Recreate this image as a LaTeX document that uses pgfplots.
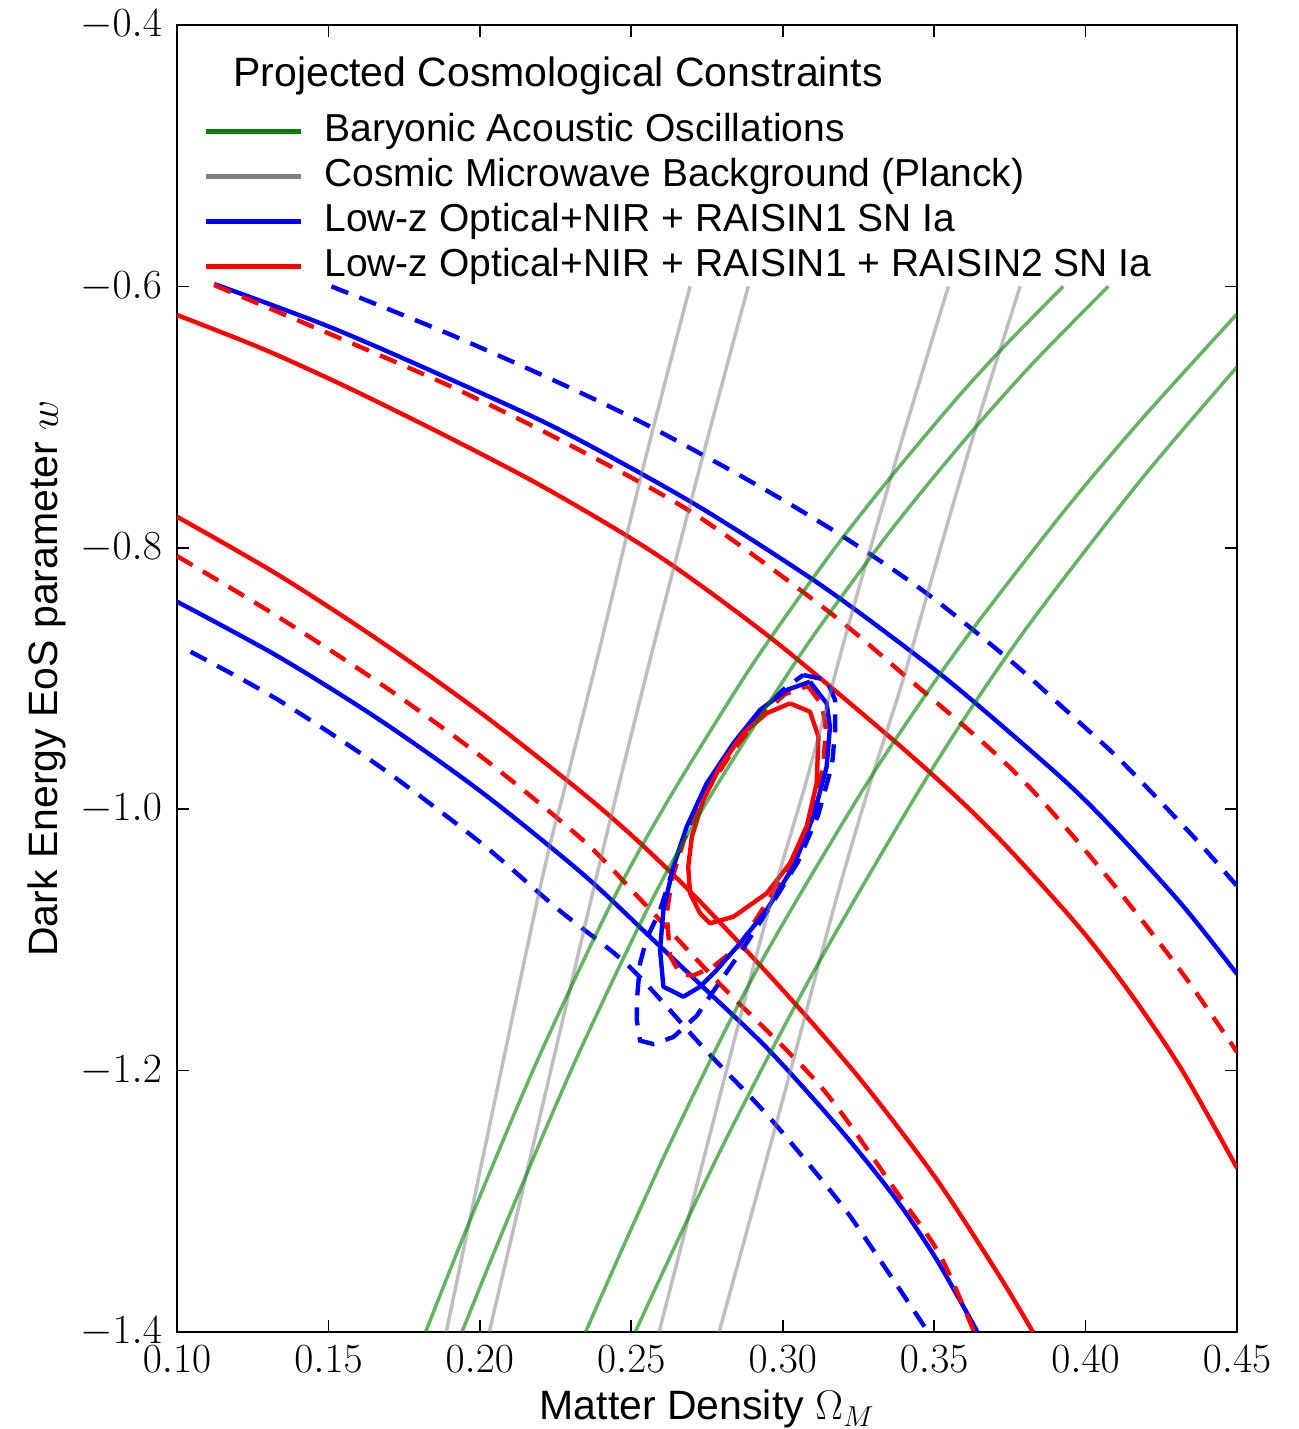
\documentclass[border=0pt]{standalone}
\usepackage{pgfplots}
\pgfplotsset{compat=1.18}
\usepackage{fontspec}
\setmainfont{Liberation Sans}
\definecolor{baog}{RGB}{0,128,0}
\definecolor{cmbg}{RGB}{128,128,128}
\definecolor{snb}{RGB}{0,0,255}
\definecolor{snr}{RGB}{255,0,0}
\begin{document}
\begin{tikzpicture}
\useasboundingbox (-88.5pt,-48.5pt) rectangle (560.5pt,666pt);
\begin{axis}[
  at={(0pt,0pt)}, anchor=south west,
  scale only axis, width=530pt, height=653.5pt,
  xmin=0.10, xmax=0.45, ymin=-1.4, ymax=-0.4,
  xtick={0.10,0.15,0.20,0.25,0.30,0.35,0.40,0.45},
  ytick={-1.4,-1.2,-1.0,-0.8,-0.6,-0.4},
  tick align=inside, tick pos=both,
  major tick length=6pt,
  tick style={black, line width=0.8pt},
  axis line style={line width=1pt},
  ticklabel style={font=\fontsize{20.5}{24}\selectfont},
  xticklabel style={yshift=-3.5pt, /pgf/number format/.cd,fixed,fixed zerofill,precision=2},
  yticklabel style={xshift=-4pt, /pgf/number format/.cd,fixed,fixed zerofill,precision=1},
  xlabel={Matter Density $\Omega_M$},
  ylabel={Dark Energy EoS parameter $w$},
  label style={font=\fontsize{20.5}{24}\selectfont},
  xlabel style={at={(axis description cs:0.5,-0.0673)}, anchor=base},
  ylabel style={at={(axis description cs:-0.1123,0.5)}, anchor=base, rotate=0},
  legend style={draw=none, fill=none, at={(rel axis cs:0.0189,0.936)}, anchor=north west,
    font=\fontsize{19.5}{22}\selectfont, cells={anchor=west},
    nodes={inner sep=0pt, text height=14pt, text depth=4pt}, row sep=4.5pt, column sep=10.5pt},
  legend cell align=left,
  legend image code/.code={\draw[#1] (0pt,0pt) -- (47.5pt,0pt);},
  sn/.style={line width=2.2pt, line join=round, line cap=butt},
  snd/.style={line width=2.2pt, dash pattern=on 9pt off 6pt},
  bao/.style={color=baog, line width=1.75pt, opacity=0.6, smooth, tension=0.5},
  cmb/.style={color=cmbg, line width=1.75pt, opacity=0.5, smooth, tension=0.5},
]
% ---- SN Ia upper branches ----
\addplot[forget plot, sn, snb, smooth, tension=0.5] coordinates {(0.1123,-0.5982) (0.1502,-0.6308) (0.1893,-0.6701) (0.2265,-0.7099) (0.2705,-0.7660) (0.3101,-0.8246) (0.3365,-0.8690) (0.3585,-0.9088) (0.3916,-0.9751) (0.4091,-1.0151) (0.4319,-1.0733) (0.45,-1.1261)};
\addplot[forget plot, snd, snb, smooth, tension=0.5] coordinates {(0.1510,-0.6) (0.1893,-0.6359) (0.2265,-0.6741) (0.2562,-0.7073) (0.2925,-0.7533) (0.3200,-0.7915) (0.3475,-0.8348) (0.3750,-0.8860) (0.3916,-0.9203) (0.4091,-0.9572) (0.4205,-0.9840) (0.4376,-1.0260) (0.45,-1.0588)};
\addplot[forget plot, snd, snr, smooth, tension=0.5] coordinates {(0.1123,-0.599) (0.1513,-0.6372) (0.1893,-0.6754) (0.2265,-0.7175) (0.2705,-0.7736) (0.3145,-0.8476) (0.3420,-0.9011) (0.3695,-0.9560) (0.3863,-0.9953) (0.4091,-1.0572) (0.4319,-1.1253) (0.45,-1.1858)};
\addplot[forget plot, sn, snr, smooth, tension=0.5] coordinates {(0.1000,-0.6219) (0.1279,-0.6474) (0.1558,-0.6767) (0.1893,-0.7150) (0.2228,-0.7558) (0.2595,-0.8070) (0.2969,-0.8705) (0.3365,-0.9471) (0.3585,-0.9930) (0.3750,-1.0312) (0.3978,-1.0901) (0.4147,-1.1406) (0.4318,-1.1995) (0.45,-1.2745)};
% ---- SN Ia lower branches ----
\addplot[forget plot, sn, snb, smooth, tension=0.5] coordinates {(0.1000,-0.8412) (0.1335,-0.8833) (0.1670,-0.9318) (0.2005,-0.9868) (0.2340,-1.0496) (0.2573,-1.1001) (0.2747,-1.1383) (0.2954,-1.1842) (0.3182,-1.2429) (0.3364,-1.2952) (0.3505,-1.3434) (0.3643,-1.4)};
\addplot[forget plot, snd, snb, smooth, tension=0.5] coordinates {(0.1045,-0.8795) (0.1335,-0.9165) (0.1670,-0.9675) (0.2005,-1.0261) (0.2261,-1.0771) (0.2494,-1.1205) (0.2748,-1.1850) (0.2954,-1.2353) (0.3182,-1.2990) (0.3284,-1.3321) (0.3480,-1.4)};
\addplot[forget plot, snd, snr, smooth, tension=0.5] coordinates {(0.1000,-0.8063) (0.1335,-0.8530) (0.1670,-0.9037) (0.2005,-0.9598) (0.2340,-1.0236) (0.2532,-1.0695) (0.2793,-1.1339) (0.3126,-1.2123) (0.3379,-1.2939) (0.3519,-1.3411) (0.3632,-1.4)};
\addplot[forget plot, sn, snr, smooth, tension=0.5] coordinates {(0.1000,-0.7762) (0.1335,-0.8208) (0.1670,-0.8713) (0.2005,-0.9266) (0.2340,-0.9878) (0.2529,-1.0259) (0.2722,-1.0695) (0.3000,-1.1383) (0.3253,-1.2057) (0.3505,-1.2822) (0.3717,-1.3577) (0.3826,-1.4)};
% ---- closed contours ----
\addplot[forget plot, snd, snb] coordinates {(0.3068,-0.8973) (0.3145,-0.9011) (0.3173,-0.9165) (0.3173,-0.9394) (0.3163,-0.9662) (0.3117,-1.0044) (0.3050,-1.0404) (0.2958,-1.0748) (0.2866,-1.1077) (0.2771,-1.1393) (0.2716,-1.1581) (0.2639,-1.1743) (0.2573,-1.1797) (0.2529,-1.1771) (0.2518,-1.1613) (0.2519,-1.1445) (0.2529,-1.1178) (0.2551,-1.0989) (0.2595,-1.0774) (0.2628,-1.0531) (0.2677,-1.0197) (0.2743,-0.9853) (0.2833,-0.9532) (0.2932,-0.9241) (0.3008,-0.9073) (0.3068,-0.8973)};
\addplot[forget plot, snd, snr] coordinates {(0.3083,-0.9057) (0.3130,-0.9203) (0.3143,-0.9394) (0.3133,-0.9685) (0.3090,-1.0067) (0.3024,-1.0435) (0.2942,-1.0733) (0.2859,-1.1039) (0.2771,-1.1204) (0.2705,-1.1272) (0.2661,-1.1259) (0.2628,-1.1123) (0.2617,-1.0800) (0.2634,-1.0535) (0.2674,-1.0236) (0.2740,-0.9891) (0.2833,-0.9562) (0.2925,-0.9287) (0.3008,-0.9119) (0.3083,-0.9057)};
\addplot[forget plot, sn, snb] coordinates {(0.3090,-0.9025) (0.3145,-0.9190) (0.3156,-0.9369) (0.3145,-0.9675) (0.3101,-1.0057) (0.3035,-1.0440) (0.2947,-1.0771) (0.2859,-1.1026) (0.2782,-1.1230) (0.2727,-1.1358) (0.2672,-1.1435) (0.2606,-1.1358) (0.2595,-1.1077) (0.2606,-1.0771) (0.2639,-1.0440) (0.2683,-1.0134) (0.2749,-0.9802) (0.2837,-0.9496) (0.2925,-0.9241) (0.3013,-0.9088) (0.3090,-0.9025)};
\addplot[forget plot, sn, snr] coordinates {(0.3024,-0.9190) (0.3090,-0.9254) (0.3118,-0.9445) (0.3112,-0.9802) (0.3079,-1.0134) (0.3024,-1.0414) (0.2947,-1.0644) (0.2837,-1.0823) (0.2760,-1.0873) (0.2727,-1.0797) (0.2694,-1.0644) (0.2688,-1.0440) (0.2700,-1.0210) (0.2738,-0.9930) (0.2793,-0.9675) (0.2870,-0.9419) (0.2947,-0.9266) (0.3024,-0.9190)};
% ---- CMB (Planck) ----
\addplot[forget plot, cmb] coordinates {(0.1889,-1.4) (0.2190,-1.0695) (0.2287,-0.9777) (0.2397,-0.8757) (0.2540,-0.7380) (0.2694,-0.6)};
\addplot[forget plot, cmb] coordinates {(0.2031,-1.4) (0.2367,-1.0695) (0.2463,-0.9777) (0.2573,-0.8757) (0.2727,-0.7380) (0.2886,-0.6)};
\addplot[forget plot, cmb] coordinates {(0.2592,-1.4) (0.2924,-1.1024) (0.3079,-0.9777) (0.3222,-0.8552) (0.3387,-0.7226) (0.3547,-0.6)};
\addplot[forget plot, cmb] coordinates {(0.2790,-1.4) (0.2991,-1.2301) (0.3176,-1.0695) (0.3292,-0.9777) (0.3397,-0.9011) (0.3519,-0.8017) (0.3645,-0.7022) (0.3784,-0.6)};
% ---- BAO ----
\addplot[forget plot, bao] coordinates {(0.1821,-1.4) (0.1968,-1.3143) (0.2188,-1.1932) (0.2434,-1.0719) (0.2622,-0.9930) (0.2867,-0.9011) (0.3017,-0.8501) (0.3184,-0.7966) (0.3349,-0.7481) (0.3561,-0.6894) (0.3720,-0.6487) (0.3926,-0.6)};
\addplot[forget plot, bao] coordinates {(0.1941,-1.4) (0.2091,-1.3143) (0.2314,-1.1932) (0.2563,-1.0719) (0.2753,-0.9930) (0.3032,-0.8910) (0.3194,-0.8374) (0.3384,-0.7787) (0.3610,-0.7150) (0.3826,-0.6588) (0.4075,-0.6)};
\addplot[forget plot, bao] coordinates {(0.2349,-1.4) (0.2618,-1.2608) (0.2905,-1.1269) (0.3244,-0.9930) (0.3445,-0.9216) (0.3625,-0.8629) (0.3932,-0.7711) (0.4183,-0.7022) (0.45,-0.6211)};
\addplot[forget plot, bao] coordinates {(0.2513,-1.4) (0.2795,-1.2608) (0.3096,-1.1269) (0.3431,-0.9930) (0.3633,-0.9190) (0.3841,-0.8501) (0.4191,-0.7456) (0.45,-0.6617)};
% ---- legend ----
\addlegendimage{color=baog, line width=2.5pt}
\addlegendentry{Baryonic Acoustic Oscillations}
\addlegendimage{color=cmbg, line width=2.5pt}
\addlegendentry{Cosmic Microwave Background (Planck)}
\addlegendimage{color=snb, line width=2.5pt}
\addlegendentry{Low-z Optical+NIR + RAISIN1 SN Ia}
\addlegendimage{color=snr, line width=2.5pt}
\addlegendentry{Low-z Optical+NIR + RAISIN1 + RAISIN2 SN Ia}
\node[anchor=base west, font=\fontsize{20.5}{24}\selectfont, inner sep=0pt] at (rel axis cs:0.0528,0.9526) {Projected Cosmological Constraints};
\end{axis}
\end{tikzpicture}
\end{document}
